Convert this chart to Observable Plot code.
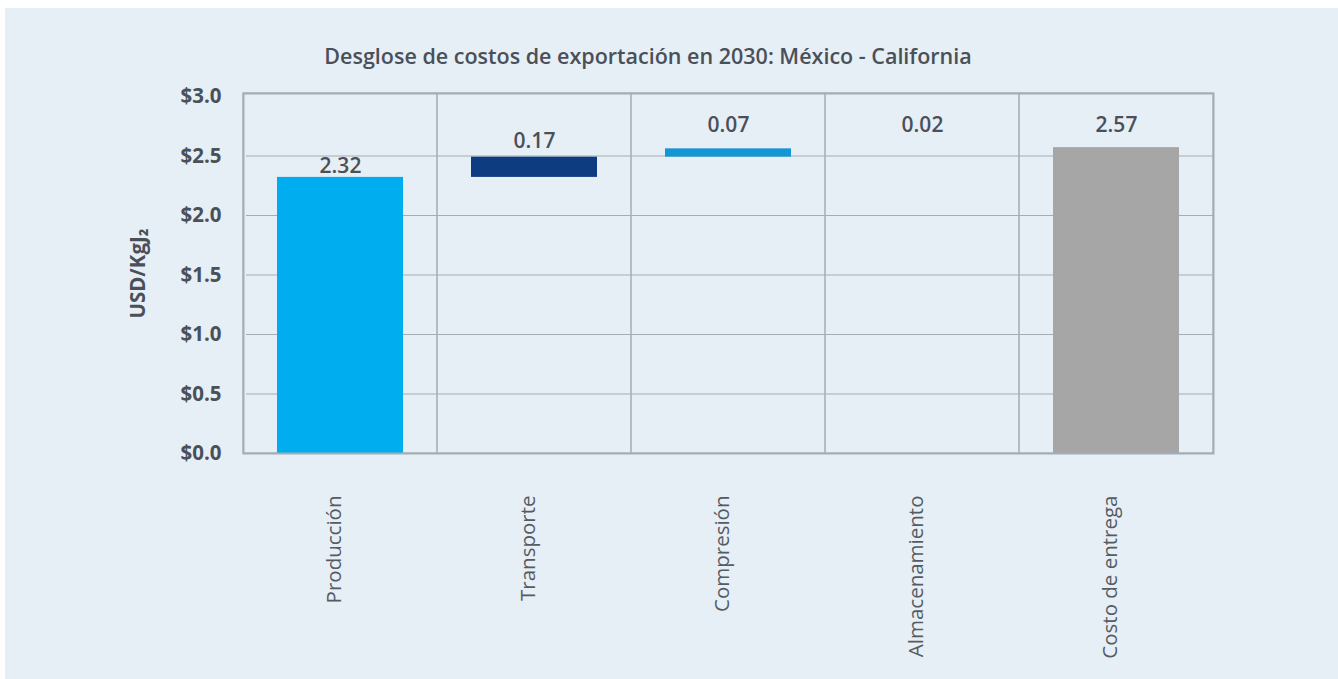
<!DOCTYPE html>
<html>
<head>
<meta charset="utf-8">
<script src="https://cdn.jsdelivr.net/npm/d3@7"></script>
<script src="https://cdn.jsdelivr.net/npm/@observablehq/plot@0.6"></script>
<style>
  html, body { margin: 0; padding: 0; background: #ffffff; }
  #wrap { position: absolute; left: 5px; top: 8px; width: 1333px; height: 671px; background: #e6eef6; overflow: hidden; }
  #title { position: absolute; left: 0; top: 35px; width: 1286px; text-align: center; font-family: "Open Sans", sans-serif; font-weight: 600; font-size: 21.5px; line-height: 26px; color: #4a5058; }
  #chart { position: absolute; left: 0; top: 52px; }
</style>
</head>
<body>
<div id="wrap">
  <div id="title">Desglose de costos de exportación en 2030: México - California</div>
  <div id="chart"></div>
</div>
<script>
const categories = ["Producción", "Transporte", "Compresión", "Almacenamiento", "Costo de entrega"];
const values = [2.32, 0.17, 0.07, 0.02, 2.57];
const isTotal = [false, false, false, false, true];
const barColors = ["#00aeef", "#0d3c80", "#1496d4", "#1496d4", "#a6a6a6"];
const yTicks = [0, 0.5, 1.0, 1.5, 2.0, 2.5, 3.0];
const yLabel = "USD/KgJ₂";

// Build waterfall rows
let run = 0;
const rows = categories.map((c, i) => {
  let y1, y2;
  if (isTotal[i]) { y1 = 0; y2 = values[i]; }
  else { y1 = run; y2 = run + values[i]; run = y2; }
  return { cat: c, value: values[i], y1, y2, color: barColors[i], i };
});
const visible = rows.filter(r => r.cat !== "Almacenamiento");
const hidden = rows.filter(r => r.cat === "Almacenamiento");

const gridColor = "#a4acb4";
const txt = "#4a5058";
const bandInset = 34;

const chart = Plot.plot({
  width: 1333,
  height: 619,
  marginTop: 33,
  marginLeft: 238,
  marginRight: 125,
  marginBottom: 226,
  style: { fontFamily: "Open Sans, sans-serif", background: "transparent", color: txt },
  x: { domain: categories, padding: 0, label: null },
  y: { domain: [0, 3.025], label: null },
  color: { type: "identity" },
  marks: [
    Plot.ruleY(yTicks.filter(t => t > 0 && t < 3), { stroke: gridColor, strokeWidth: 1.2, insetLeft: 3 }),
    Plot.barY(categories, { x: d => d, y1: 0, y2: 3.025, fill: "none", stroke: gridColor, strokeWidth: 1 }),
    Plot.barY(visible, { x: "cat", y1: "y1", y2: "y2", fill: "color", insetLeft: bandInset, insetRight: bandInset }),
    Plot.barY(hidden, { x: "cat", y1: "y1", y2: "y2", fill: "color", fillOpacity: 0, insetLeft: bandInset, insetRight: bandInset }),
    Plot.frame({ stroke: gridColor, strokeWidth: 2 }),
    Plot.text(rows.filter(r => r.i === 0), { x: "cat", y: "y2", text: d => d.value.toFixed(2), dy: -11, fontSize: 21, fontWeight: 600, fill: txt }),
    Plot.text(rows.filter(r => r.i === 1), { x: "cat", y: "y2", text: d => d.value.toFixed(2), dy: -16, fontSize: 21, fontWeight: 600, fill: txt }),
    Plot.text(rows.filter(r => r.i >= 2), { x: "cat", y: r => Math.max(r.y2, 2.58), text: d => d.value.toFixed(2), dy: -21, fontSize: 21, fontWeight: 600, fill: txt }),
    Plot.axisY({ ticks: yTicks, tickFormat: d => "$" + d.toFixed(1), tickSize: 0, tickPadding: 22, fontSize: 20.5, fontWeight: 700, fill: txt,
      label: yLabel, labelAnchor: "center", labelArrow: "none", labelOffset: 113 }),
    Plot.axisX({ tickRotate: -90, tickSize: 0, tickPadding: 42, fontSize: 20.5, fontWeight: 400, fill: "#555b63", dx: -6, label: null })
  ]
});
chart.querySelectorAll("g[aria-label='y-axis label']").forEach(g => { g.setAttribute("font-size", 20.5); g.setAttribute("font-weight", 700); g.setAttribute("fill", txt); });
document.getElementById("chart").appendChild(chart);
</script>
</body>
</html>
